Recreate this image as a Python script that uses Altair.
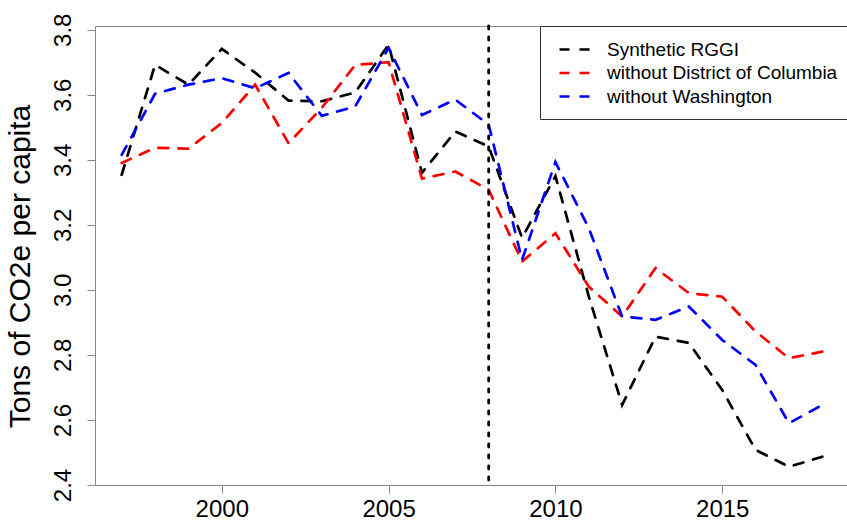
import altair as alt
import pandas as pd

years = list(range(1997, 2019))
synthetic_rggi = [3.354, 3.692, 3.631, 3.741, 3.668, 3.582, 3.580, 3.607, 3.754, 3.360, 3.487,
                  3.441, 3.160, 3.350, 2.980, 2.646, 2.856, 2.837, 2.692, 2.508, 2.456, 2.487]
without_dc = [3.390, 3.437, 3.434, 3.513, 3.631, 3.451, 3.560, 3.692, 3.700, 3.342, 3.364,
              3.308, 3.087, 3.174, 3.010, 2.918, 3.067, 2.990, 2.979, 2.872, 2.790, 2.810]
without_wa = [3.415, 3.603, 3.631, 3.651, 3.620, 3.667, 3.535, 3.564, 3.744, 3.538, 3.585,
              3.508, 3.092, 3.393, 3.190, 2.918, 2.908, 2.949, 2.846, 2.769, 2.590, 2.646]

series_names = ["Synthetic RGGI", "without District of Columbia", "without Washington"]
series_colors = ["#000000", "#ff0000", "#0000ff"]
treatment_year = [2008]
x_ticks = [2000, 2005, 2010, 2015]
y_ticks = [2.4, 2.6, 2.8, 3.0, 3.2, 3.4, 3.6, 3.8]
y_title = "Tons of CO2e per capita"

rows = []
for name, vals in zip(series_names, [synthetic_rggi, without_dc, without_wa]):
    for yr, v in zip(years, vals):
        rows.append({"year": yr, "value": v, "series": name})
df = pd.DataFrame(rows)
df_rule = pd.DataFrame({"year": treatment_year})

FONT = "Liberation Sans"
x_scale = alt.Scale(domain=[1996.2, 2018.74], nice=False, zero=False)
y_scale = alt.Scale(domain=[2.4, 3.8114], nice=False, zero=False)

lines = alt.Chart(df).mark_line(
    strokeWidth=2.7, strokeDash=[10, 10], strokeCap="round", clip=True
).encode(
    x=alt.X("year:Q", scale=x_scale,
            axis=alt.Axis(values=x_ticks, format="d", title=None, labelFontSize=24,
                          tickSize=8, labelPadding=4, grid=False)),
    y=alt.Y("value:Q", scale=y_scale,
            axis=alt.Axis(values=y_ticks, format=".1f", title=y_title, labelFontSize=24,
                          labelAngle=270, labelAlign="center", labelBaseline="middle",
                          tickSize=8, labelPadding=24, grid=False,
                          titleFontSize=30, titleFontWeight="normal", titleAngle=270,
                          titleAlign="center", titleBaseline="bottom",
                          titleX=-60, titleY=240)),
    color=alt.Color("series:N",
                    scale=alt.Scale(domain=series_names, range=series_colors),
                    legend=alt.Legend(title=None, orient="none", legendX=445, legendY=0,
                                      symbolType="M-1.5,0H1.5", symbolStrokeWidth=2.7,
                                      symbolFillColor="transparent",
                                      symbolDash=[10, 10], symbolSize=400, symbolOffset=11,
                                      labelFontSize=19, labelFont=FONT, labelColor="black",
                                      labelOffset=21, labelLimit=0,
                                      padding=12, rowPadding=1.5,
                                      strokeColor="#333333", fillColor="white")),
)

rule = alt.Chart(df_rule).mark_rule(
    strokeDash=[3, 8], strokeWidth=2.8, strokeCap="round", color="black"
).encode(
    x=alt.X("year:Q", scale=x_scale,
            axis=alt.Axis(orient="top", labels=False, ticks=False, domain=True,
                          title=None, grid=False))
)

chart = alt.layer(lines, rule).resolve_axis(x="independent").properties(
    width=752, height=459,
    autosize=alt.AutoSizeParams(type="none"),
    padding={"left": 95, "top": 26, "right": 0, "bottom": 36},
).configure_view(stroke=None).configure_axis(
    labelFont=FONT, titleFont=FONT, labelColor="black", titleColor="black",
    domainColor="#333333", tickColor="#333333", domainWidth=1, tickWidth=1
).configure(background="white")

chart.save("out.html", embed_options={"renderer": "svg", "actions": False})
